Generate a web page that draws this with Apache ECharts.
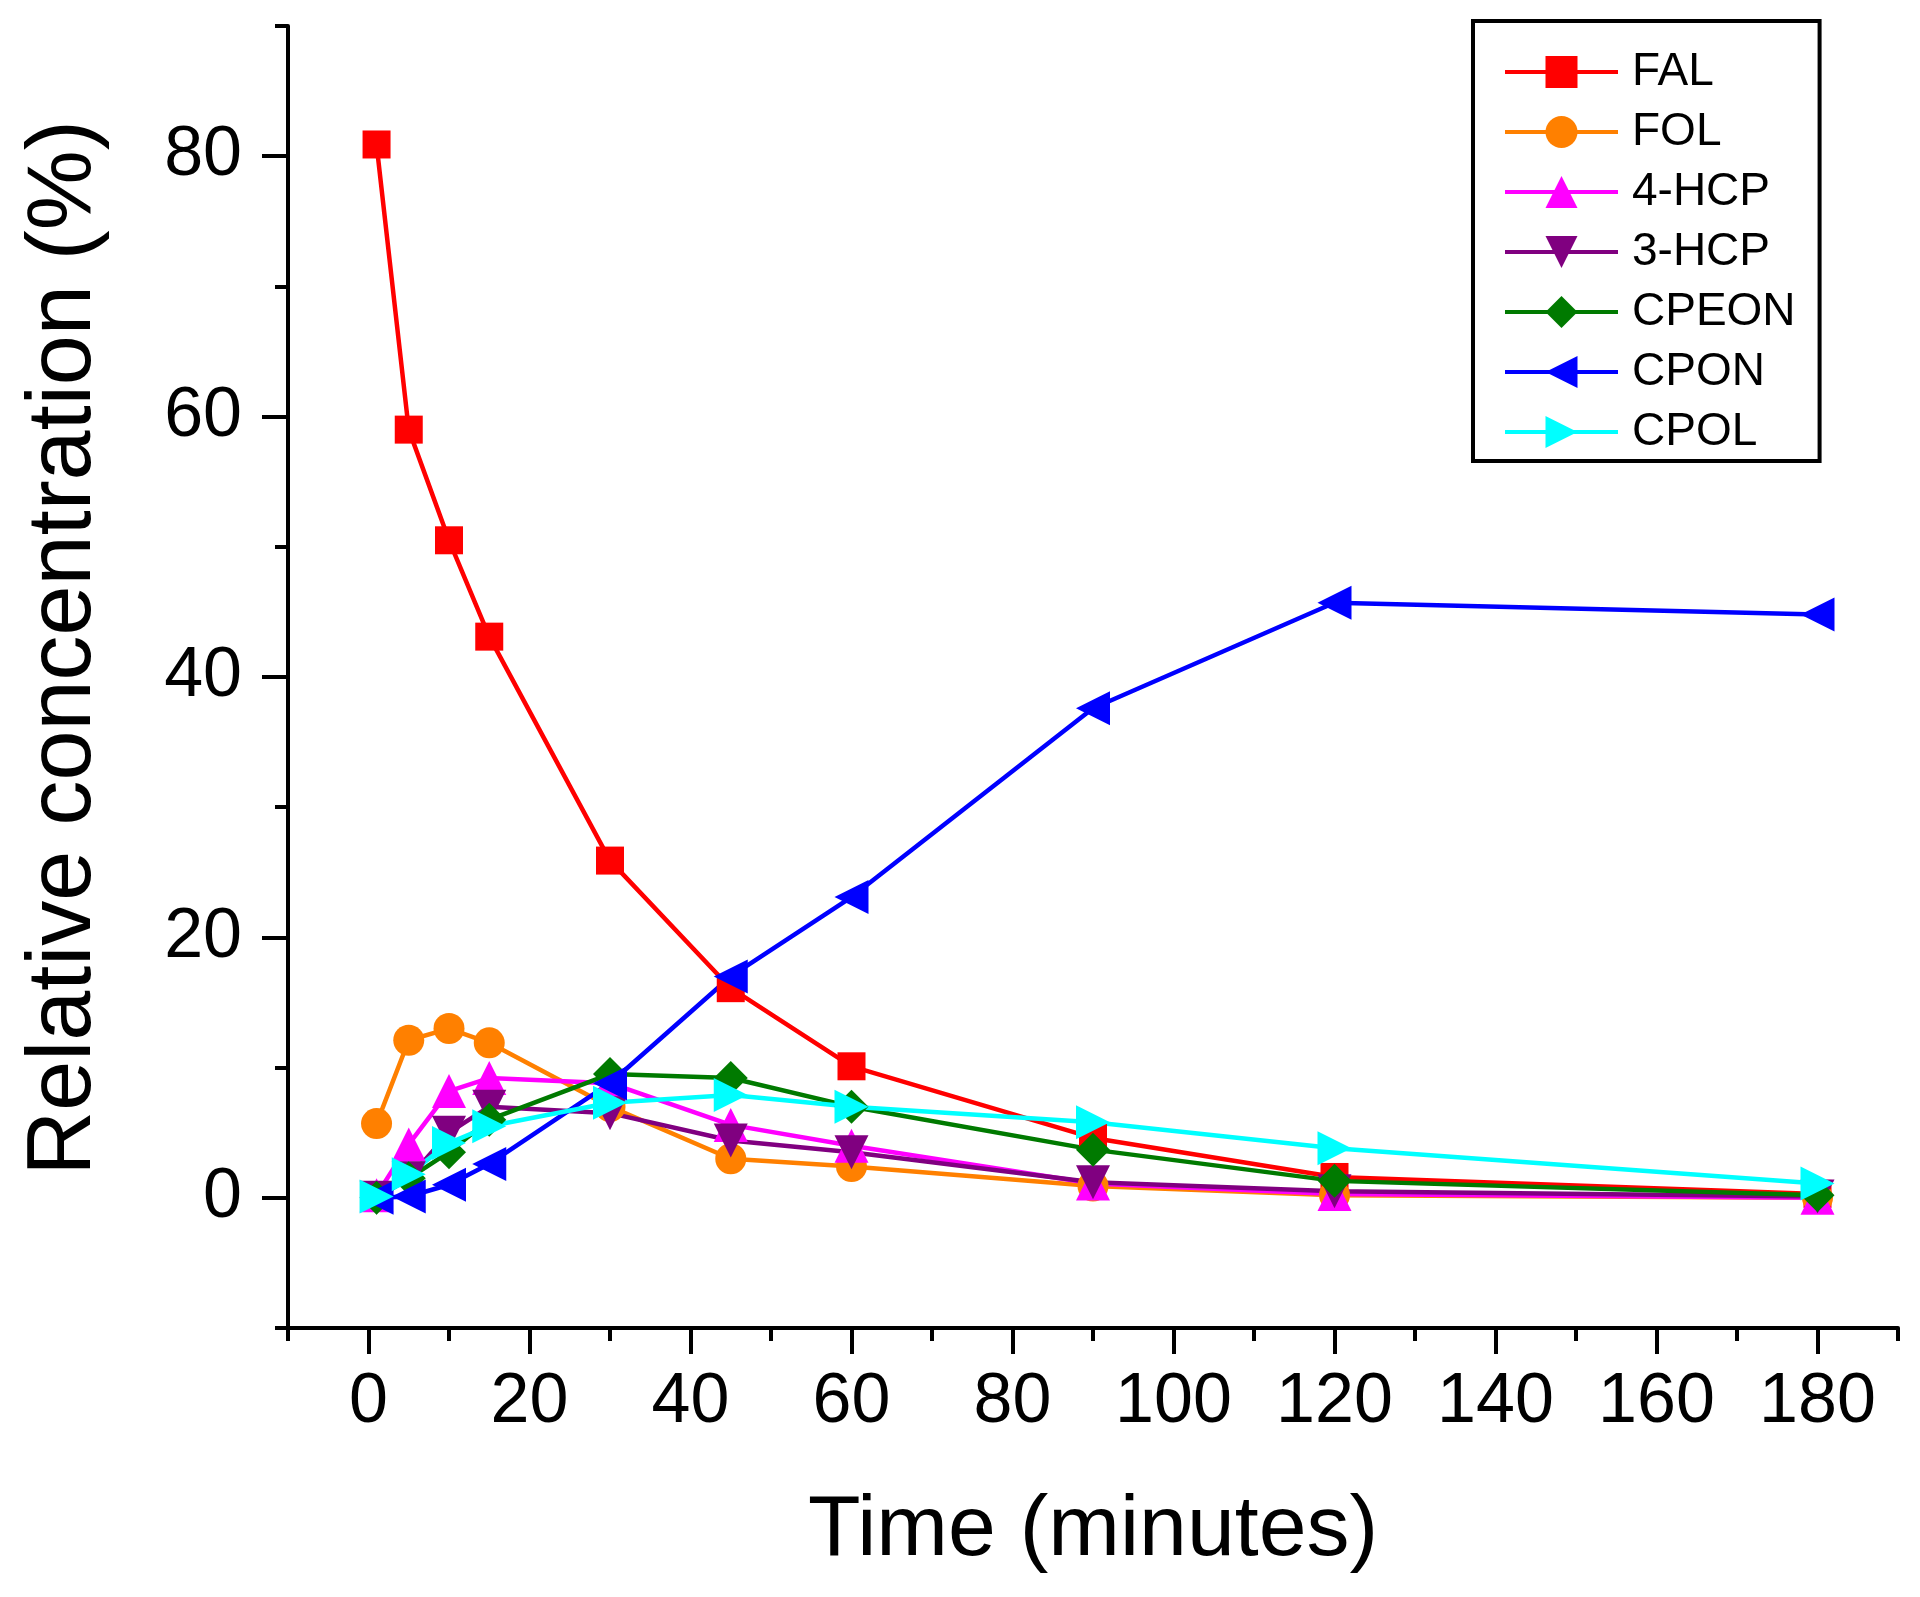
<!DOCTYPE html>
<html>
<head>
<meta charset="utf-8">
<script src="https://cdn.jsdelivr.net/npm/echarts@6/dist/echarts.min.js"></script>
<style>
html,body{margin:0;padding:0;background:#fff;}
#chart{width:1920px;height:1597px;}
</style>
</head>
<body>
<div id="chart"></div>
<script>
const times = [1, 5, 10, 15, 30, 45, 60, 90, 120, 180];
const FAL   = [80.9, 59.0, 50.5, 43.1, 25.9, 16.1, 10.1, 4.6, 1.6, 0.3];
const FOL   = [5.7, 12.1, 13.0, 11.9, 7.0, 3.0, 2.4, 0.9, 0.2, 0.0];
const HCP4  = [0.2, 4.1, 8.2, 9.2, 8.8, 5.6, 4.0, 1.1, 0.3, 0.0];
const HCP3  = [0.0, 1.5, 5.0, 7.0, 6.5, 4.4, 3.5, 1.2, 0.5, 0.1];
const CPEON = [0.0, 1.5, 3.5, 6.0, 9.5, 9.2, 7.0, 3.7, 1.3, 0.2];
const CPON  = [0.0, 0.1, 1.0, 2.6, 8.8, 17.0, 23.1, 37.6, 45.7, 44.8];
const CPOL  = [0.1, 1.8, 4.2, 5.5, 7.3, 7.9, 7.0, 5.8, 3.8, 1.1];

const xMajorTicks = [0, 20, 40, 60, 80, 100, 120, 140, 160, 180];
const xMinorTicks = [-10, 10, 30, 50, 70, 90, 110, 130, 150, 170, 190];
const yMajorTicks = [0, 20, 40, 60, 80];
const yMinorTicks = [-10, 10, 30, 50, 70, 90];

const FONT = '"Liberation Sans", Arial, sans-serif';

const seriesDefs = [
  {name: 'FAL',   data: FAL,   color: '#FF0000', symbol: 'rect',     size: 28, rotate: 0},
  {name: 'FOL',   data: FOL,   color: '#FF8000', symbol: 'circle',   size: 31, rotate: 0},
  {name: '4-HCP', data: HCP4,  color: '#FF00FF', symbol: 'triangle', size: 34, rotate: 0},
  {name: '3-HCP', data: HCP3,  color: '#800080', symbol: 'triangle', size: 34, rotate: 180},
  {name: 'CPEON', data: CPEON, color: '#007A00', symbol: 'diamond',  size: 34, rotate: 0},
  {name: 'CPON',  data: CPON,  color: '#0000FF', symbol: 'triangle', size: 34, rotate: 90},
  {name: 'CPOL',  data: CPOL,  color: '#00FFFF', symbol: 'triangle', size: 34, rotate: -90}
];

const chart = echarts.init(document.getElementById('chart'), null, {renderer: 'canvas'});

function tickAxis(isX, min, max, values, len) {
  return {
    type: 'value', min: min, max: max,
    position: isX ? 'bottom' : 'left', offset: 0,
    axisLine: {show: false, onZero: false},
    splitLine: {show: false},
    axisLabel: {show: false},
    axisTick: {show: true, inside: false, length: len, lineStyle: {color: '#000', width: 4}, customValues: values}
  };
}

const option = {
  backgroundColor: '#fff',
  animation: false,
  grid: {left: 288, right: 22, top: 26, bottom: 269, containLabel: false, outerBoundsMode: 'none'},
  xAxis: [
    {
      type: 'value', min: -10, max: 190, position: 'bottom', offset: 0,
      axisLine: {show: true, onZero: false, lineStyle: {color: '#000', width: 4}},
      splitLine: {show: false},
      axisTick: {show: false},
      name: 'Time (minutes)', nameLocation: 'middle', nameGap: 160,
      nameTextStyle: {fontFamily: FONT, fontSize: 86, color: '#000'},
      axisLabel: {show: true, margin: 40, fontFamily: FONT, fontSize: 70, color: '#000', customValues: xMajorTicks}
    },
    tickAxis(true, -10, 190, xMajorTicks, 26),
    tickAxis(true, -10, 190, xMinorTicks, 13)
  ],
  yAxis: [
    {
      type: 'value', min: -10, max: 90, position: 'left', offset: 0,
      axisLine: {show: true, onZero: false, lineStyle: {color: '#000', width: 4}},
      splitLine: {show: false},
      axisTick: {show: false},
      name: 'Relative concentration (%)', nameLocation: 'middle', nameGap: 178,
      nameTextStyle: {fontFamily: FONT, fontSize: 90, color: '#000', padding: [0, 0, 0, 58]},
      axisLabel: {show: true, margin: 46, fontFamily: FONT, fontSize: 70, color: '#000', customValues: yMajorTicks}
    },
    tickAxis(false, -10, 90, yMajorTicks, 26),
    tickAxis(false, -10, 90, yMinorTicks, 13)
  ],
  legend: {
    orient: 'vertical',
    left: 1473, top: 21,
    backgroundColor: '#fff',
    borderColor: '#000', borderWidth: 4, borderRadius: 0,
    padding: [28, 24, 6, 30],
    itemWidth: 113, itemHeight: 40, itemGap: 14,
    lineStyle: {width: 4},
    textStyle: {fontFamily: FONT, fontSize: 46, color: '#000', lineHeight: 46, padding: [0, 0, 0, 9]},
    data: seriesDefs.map(s => s.name)
  },
  series: seriesDefs.map(s => ({
    name: s.name,
    type: 'line',
    xAxisIndex: 0, yAxisIndex: 0,
    data: times.map((t, i) => [t, s.data[i]]),
    symbol: s.symbol,
    symbolSize: s.size,
    symbolRotate: s.rotate,
    showAllSymbol: true,
    lineStyle: {color: s.color, width: 4.5},
    itemStyle: {color: s.color, borderWidth: 0},
    emphasis: {disabled: true}
  }))
};

chart.setOption(option);
</script>
</body>
</html>
